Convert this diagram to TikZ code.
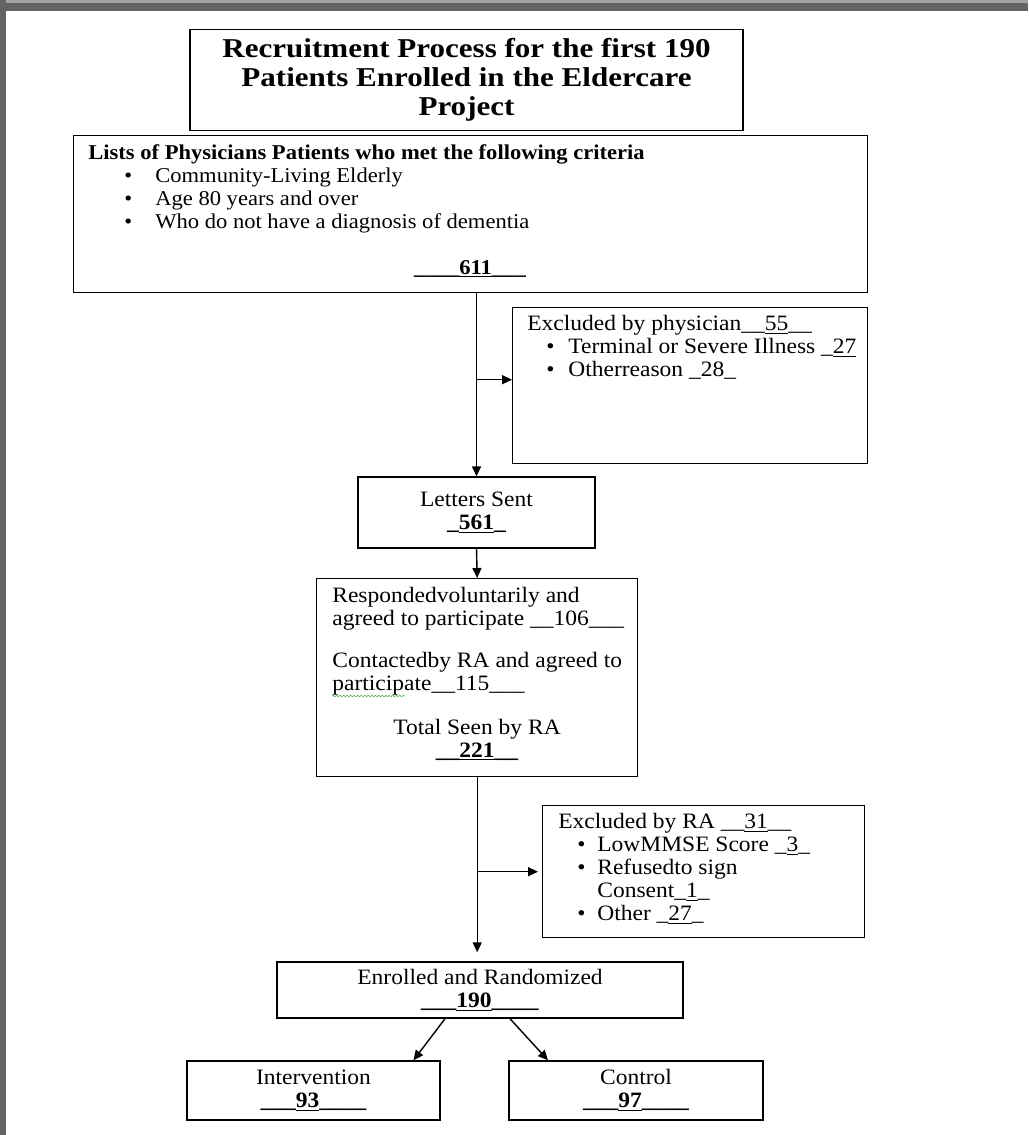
\documentclass[tikz,border=0pt]{standalone}
\usepackage{fontspec}
\setmainfont{Liberation Serif}[FakeStretch=1.07]
\newfontfamily\titlefont{Liberation Serif}[FakeStretch=1.14]
\usetikzlibrary{arrows.meta,decorations.pathmorphing}
\definecolor{frametop}{HTML}{A3A3A3}
\definecolor{frameside}{HTML}{646464}
\definecolor{spellgreen}{HTML}{5CB85C}
\newcommand{\px}{0.02cm}
\newcommand{\bul}[1]{\makebox[#1][l]{\textbullet}}
\tikzset{
  box/.style={draw, line width=0.8pt, inner sep=0pt},
  txt/.style={inner sep=0pt, font=\fontsize{12.5}{13.1}\selectfont},
  arr/.style={-{Triangle[length=0.2cm,width=0.18cm]}, line width=0.8pt},
}
\begin{document}
\begin{tikzpicture}[x=0.02cm, y=-0.02cm]
\useasboundingbox (0,0) rectangle (1028,1135);
% window frame
\fill[frameside] (0,0) rectangle (1028,11);
\fill[frametop] (0,0) rectangle (1028,3);
\fill[frameside] (0,0) rectangle (6,1135);

% boxes
\node[box, minimum width=553*\px, minimum height=101*\px, align=center,
  font=\titlefont\bfseries\fontsize{15.5}{16.5}\selectfont] (title) at (466.5,80)
  {Recruitment Process for the first 190\\Patients Enrolled in the Eldercare\\Project};
\node[box, minimum width=794*\px, minimum height=157*\px, anchor=north west] (crit) at (73,135) {};
\node[txt, anchor=north west, align=left, font=\fontsize{12}{13.1}\selectfont] (crittxt) at (88,144)
  {\textbf{Lists of Physicians Patients who met the following criteria}\\
   \hspace*{0.72cm}\bul{0.62cm}Community-Living Elderly\\
   \hspace*{0.72cm}\bul{0.62cm}Age 80 years and over\\
   \hspace*{0.72cm}\bul{0.62cm}Who do not have a diagnosis of dementia};
\node[txt, font=\bfseries\fontsize{12}{13.1}\selectfont] (critn) at (470,269) {\_\_\_\_\underline{611}\_\_\_};

\node[box, minimum width=355*\px, minimum height=156*\px, anchor=north west] (exph) at (512,307) {};
\node[txt, anchor=north west, align=left] (exphtxt) at (527,315)
  {Excluded by physician\_\_\underline{55}\_\_\\
   \hspace*{0.38cm}\bul{0.44cm}Terminal or Severe Illness \_\underline{27}\\
   \hspace*{0.38cm}\bul{0.44cm}Otherreason \_28\_};

\node[box, txt, minimum width=237*\px, minimum height=71*\px, align=center] (lett) at (476.5,512.5)
  {Letters Sent\\\textbf{\_\underline{561}\_}};

\node[box, minimum width=321*\px, minimum height=198*\px, anchor=north west] (resp) at (316,578) {};
\node[txt, anchor=north west, align=left] (resptxt) at (332,587)
  {Respondedvoluntarily and\\
   agreed to participate \_\_106\_\_\_\\[0.38cm]
   Contactedby RA and agreed to\\
   participate\_\_115\_\_\_};
\draw[spellgreen, decorate, decoration={snake, amplitude=0.4pt, segment length=2pt}] (332,696) -- (405,696);
\node[txt, align=center] (total) at (477,740) {Total Seen by RA\\\textbf{\_\_\underline{221}\_\_}};

\node[box, minimum width=322*\px, minimum height=132*\px, anchor=north west] (exra) at (542,805) {};
\node[txt, anchor=north west, align=left] (exratxt) at (558,813)
  {Excluded by RA \_\_\underline{31}\_\_\\
   \hspace*{0.38cm}\bul{0.4cm}LowMMSE Score \_\underline{3}\_\\
   \hspace*{0.38cm}\bul{0.4cm}Refusedto sign\\
   \hspace*{0.78cm}Consent\_\underline{1}\_\\
   \hspace*{0.38cm}\bul{0.4cm}Other \_\underline{27}\_};

\node[box, txt, minimum width=406*\px, minimum height=56*\px, align=center] (enr) at (480,990)
  {Enrolled and Randomized\\\textbf{\_\_\_\underline{190}\_\_\_\_}};
\node[box, txt, minimum width=253*\px, minimum height=59*\px, align=center] (int) at (313.5,1090.5)
  {Intervention\\\textbf{\_\_\_\underline{93}\_\_\_\_}};
\node[box, txt, minimum width=254*\px, minimum height=59*\px, align=center] (ctl) at (636,1090.5)
  {Control\\\textbf{\_\_\_\underline{97}\_\_\_\_}};

% connectors
\coordinate (br1) at (lett.north |- exph.west);
\coordinate (br2) at (resp.south |- exra.west);
\draw[arr] (crit.south -| lett.north) -- (lett.north);
\draw[arr] ([yshift=0.12cm]br1) -- ([yshift=0.12cm]exph.west);
\draw[arr] (lett.south) -- (resp.north);
\draw[arr, shorten >=0.18cm] (resp.south) -- (resp.south |- enr.north);
\draw[arr, shorten >=0.08cm] (br2) -- (exra.west);
\draw[arr] ([xshift=-0.7cm]enr.south) -- ([xshift=2cm]int.north);
\draw[arr] ([xshift=0.6cm]enr.south) -- ([xshift=-1.76cm]ctl.north);
\end{tikzpicture}
\end{document}
